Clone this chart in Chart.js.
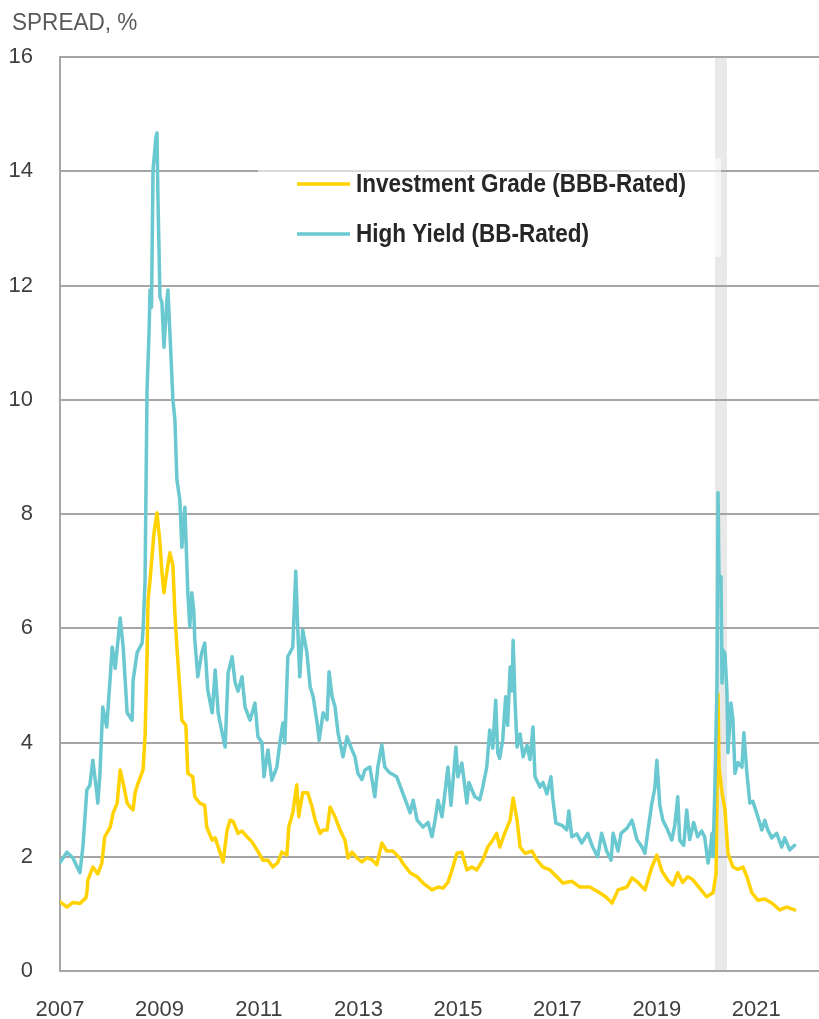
<!DOCTYPE html>
<html>
<head>
<meta charset="utf-8">
<script src="https://cdn.jsdelivr.net/npm/chart.js@4.4.1/dist/chart.umd.min.js"></script>
<style>
  html, body { margin: 0; padding: 0; background: #ffffff; }
  #wrap { position: relative; width: 819px; height: 1019px; }
</style>
</head>
<body>
<div id="wrap"><canvas id="c"></canvas></div>
<script>
// ---------- DATA ----------
const axisTitle = "SPREAD, %";
const seriesNames = ["Investment Grade (BBB-Rated)", "High Yield (BB-Rated)"];
const xTickYears = [2007, 2009, 2011, 2013, 2015, 2017, 2019, 2021];
const yTicks = [0, 2, 4, 6, 8, 10, 12, 14, 16];
const recessionStart = 2020.17;
const recessionEnd = 2020.41;

const hyYears = [2007.00,2007.14,2007.26,2007.40,2007.46,2007.54,2007.60,2007.66,2007.74,2007.76,2007.80,2007.86,2007.94,2008.01,2008.05,2008.11,2008.21,2008.27,2008.35,2008.45,2008.47,2008.55,2008.65,2008.67,2008.71,2008.75,2008.79,2008.81,2008.84,2008.87,2008.93,2008.95,2008.97,2009.01,2009.05,2009.09,2009.15,2009.17,2009.21,2009.27,2009.31,2009.35,2009.41,2009.45,2009.51,2009.57,2009.61,2009.65,2009.69,2009.71,2009.77,2009.85,2009.91,2009.97,2010.06,2010.12,2010.18,2010.26,2010.32,2010.38,2010.46,2010.52,2010.58,2010.66,2010.72,2010.82,2010.92,2010.98,2011.06,2011.10,2011.18,2011.26,2011.36,2011.42,2011.48,2011.52,2011.58,2011.68,2011.74,2011.78,2011.82,2011.88,2011.96,2012.03,2012.09,2012.17,2012.21,2012.29,2012.37,2012.41,2012.47,2012.53,2012.59,2012.69,2012.77,2012.87,2012.93,2012.99,2013.07,2013.13,2013.23,2013.33,2013.39,2013.47,2013.53,2013.63,2013.77,2013.89,2014.04,2014.10,2014.18,2014.30,2014.40,2014.48,2014.54,2014.60,2014.68,2014.74,2014.80,2014.86,2014.96,2015.00,2015.08,2015.18,2015.22,2015.34,2015.44,2015.50,2015.58,2015.64,2015.70,2015.76,2015.80,2015.84,2015.90,2015.96,2016.00,2016.05,2016.09,2016.11,2016.15,2016.19,2016.25,2016.31,2016.39,2016.45,2016.51,2016.55,2016.65,2016.71,2016.79,2016.87,2016.91,2016.97,2017.09,2017.19,2017.23,2017.29,2017.39,2017.49,2017.61,2017.71,2017.81,2017.89,2017.99,2018.08,2018.12,2018.22,2018.28,2018.40,2018.50,2018.60,2018.70,2018.76,2018.82,2018.90,2018.96,2019.00,2019.06,2019.12,2019.20,2019.30,2019.36,2019.42,2019.46,2019.54,2019.60,2019.66,2019.74,2019.82,2019.90,2019.96,2020.03,2020.07,2020.11,2020.13,2020.17,2020.21,2020.23,2020.25,2020.29,2020.31,2020.33,2020.37,2020.41,2020.43,2020.49,2020.53,2020.57,2020.63,2020.71,2020.75,2020.81,2020.87,2020.93,2021.03,2021.11,2021.17,2021.23,2021.31,2021.41,2021.51,2021.57,2021.67,2021.77];
const hyValues = [1.90,2.08,1.98,1.72,2.17,3.17,3.25,3.69,3.12,2.94,3.40,4.62,4.27,5.15,5.67,5.30,6.18,5.67,4.52,4.39,5.09,5.57,5.74,5.97,6.84,10.17,11.17,11.92,11.62,14.02,14.60,14.67,13.50,11.80,11.70,10.92,11.75,11.92,11.17,10.00,9.65,8.60,8.24,7.42,8.12,6.62,6.03,6.62,6.30,5.80,5.15,5.57,5.74,4.92,4.52,5.27,4.52,4.17,3.92,5.22,5.50,5.05,4.90,5.15,4.62,4.39,4.69,4.10,4.00,3.40,3.87,3.34,3.57,3.99,4.34,3.99,5.50,5.67,7.00,6.00,5.15,5.97,5.60,4.97,4.80,4.34,4.04,4.52,4.40,5.24,4.80,4.62,4.17,3.75,4.10,3.87,3.75,3.46,3.35,3.52,3.57,3.05,3.57,3.96,3.57,3.47,3.40,3.12,2.77,2.99,2.64,2.52,2.60,2.35,2.64,2.99,2.70,3.12,3.57,2.90,3.92,3.40,3.64,2.94,3.30,3.05,3.00,3.22,3.57,4.22,3.90,4.74,3.82,3.72,4.04,4.80,4.30,5.32,4.90,5.79,4.70,3.92,4.15,3.75,3.95,3.70,4.27,3.40,3.22,3.30,3.10,3.40,3.00,2.59,2.55,2.47,2.80,2.35,2.40,2.24,2.41,2.17,2.00,2.41,2.10,1.94,2.41,2.10,2.41,2.50,2.64,2.30,2.17,2.06,2.45,2.94,3.20,3.69,2.90,2.64,2.50,2.29,2.55,3.05,2.29,2.20,2.82,2.30,2.60,2.35,2.45,2.35,1.89,2.10,2.41,2.00,3.34,5.09,8.37,6.84,6.90,5.04,5.62,5.55,4.87,3.82,4.69,4.40,3.46,3.65,3.57,4.17,3.46,2.94,2.97,2.70,2.47,2.64,2.47,2.33,2.41,2.17,2.33,2.12,2.20];

const igYears = [2007.00,2007.14,2007.26,2007.40,2007.52,2007.54,2007.56,2007.66,2007.76,2007.84,2007.90,2008.01,2008.07,2008.15,2008.21,2008.27,2008.35,2008.41,2008.47,2008.51,2008.57,2008.67,2008.71,2008.75,2008.77,2008.81,2008.89,2008.95,2008.97,2009.01,2009.05,2009.09,2009.15,2009.21,2009.27,2009.31,2009.35,2009.41,2009.45,2009.53,2009.57,2009.67,2009.71,2009.81,2009.91,2009.95,2010.06,2010.12,2010.20,2010.28,2010.36,2010.42,2010.48,2010.58,2010.66,2010.76,2010.86,2010.96,2011.08,2011.18,2011.28,2011.38,2011.46,2011.56,2011.60,2011.68,2011.76,2011.80,2011.88,2011.98,2012.07,2012.13,2012.23,2012.29,2012.37,2012.43,2012.53,2012.63,2012.73,2012.79,2012.87,2012.97,2013.07,2013.17,2013.27,2013.37,2013.47,2013.57,2013.69,2013.83,2013.89,2014.04,2014.18,2014.30,2014.48,2014.60,2014.70,2014.80,2014.90,2014.98,2015.08,2015.18,2015.28,2015.38,2015.50,2015.60,2015.70,2015.78,2015.84,2015.94,2016.05,2016.11,2016.19,2016.25,2016.35,2016.49,2016.59,2016.71,2016.85,2016.99,2017.11,2017.29,2017.45,2017.65,2017.85,2017.97,2018.10,2018.22,2018.40,2018.50,2018.62,2018.76,2018.90,2019.00,2019.10,2019.22,2019.32,2019.42,2019.52,2019.62,2019.72,2019.86,2020.00,2020.13,2020.19,2020.21,2020.23,2020.25,2020.31,2020.37,2020.43,2020.53,2020.63,2020.73,2020.81,2020.91,2021.03,2021.17,2021.31,2021.47,2021.61,2021.67,2021.77];
const igValues = [1.21,1.12,1.20,1.18,1.28,1.37,1.59,1.82,1.70,1.89,2.35,2.52,2.77,2.94,3.52,3.29,2.94,2.87,2.82,3.12,3.29,3.52,4.10,5.50,6.49,6.84,7.67,8.02,7.85,7.49,6.97,6.62,7.00,7.32,7.10,6.27,5.67,4.92,4.39,4.30,3.46,3.40,3.05,2.94,2.90,2.52,2.29,2.33,2.12,1.91,2.47,2.64,2.62,2.41,2.45,2.35,2.26,2.12,1.94,1.94,1.82,1.90,2.08,2.03,2.52,2.77,3.26,2.70,3.12,3.12,2.87,2.64,2.41,2.47,2.47,2.87,2.70,2.47,2.29,1.98,2.08,1.98,1.91,1.98,1.95,1.86,2.24,2.10,2.10,1.98,1.89,1.72,1.65,1.54,1.42,1.47,1.45,1.55,1.82,2.06,2.08,1.77,1.82,1.77,1.94,2.17,2.29,2.41,2.17,2.41,2.64,3.03,2.64,2.17,2.06,2.10,1.94,1.82,1.77,1.65,1.54,1.57,1.47,1.47,1.37,1.30,1.19,1.42,1.47,1.63,1.55,1.42,1.82,2.03,1.75,1.59,1.50,1.72,1.55,1.65,1.60,1.45,1.30,1.37,1.70,3.00,4.85,3.57,3.12,2.82,2.06,1.82,1.78,1.82,1.65,1.37,1.24,1.26,1.19,1.07,1.12,1.10,1.07];

// ---------- STYLE ----------
const igColor = "#FFD200";
const hyColor = "#69C8D0";
const gridColor = "#A6A6A6";
const tickFont = "'Liberation Sans', Arial, sans-serif";

function pairs(xs, ys) { return xs.map((x, i) => ({ x: x, y: ys[i] })); }

function narrowText(ctx, text, x, y, sx) {
  ctx.save();
  ctx.translate(x, y);
  ctx.scale(sx, 1);
  ctx.fillText(text, 0, 0);
  ctx.restore();
}

const overlayPlugin = {
  id: 'overlay',
  beforeDraw(chart) {
    const { ctx, chartArea, scales } = chart;
    const x0 = scales.x.getPixelForValue(recessionStart);
    const x1 = scales.x.getPixelForValue(recessionEnd);
    ctx.save();
    ctx.fillStyle = "#E9E9E9";
    ctx.fillRect(x0, chartArea.top, x1 - x0, chartArea.bottom - chartArea.top);
    ctx.restore();
  },
  afterDraw(chart) {
    const { ctx } = chart;
    ctx.save();
    // axis title
    ctx.fillStyle = "#595959";
    ctx.font = "24px " + tickFont;
    ctx.textBaseline = "middle";
    ctx.textAlign = "left";
    narrowText(ctx, axisTitle, 12, 23, 0.94);
    // legend box
    ctx.fillStyle = "rgba(255,255,255,0.6)";
    ctx.fillRect(258, 158, 463, 99);
    const items = [[seriesNames[0], igColor, 184], [seriesNames[1], hyColor, 234]];
    ctx.font = "bold 25px " + tickFont;
    items.forEach(([label, col, y]) => {
      ctx.strokeStyle = col;
      ctx.lineWidth = 3.5;
      ctx.beginPath();
      ctx.moveTo(297, y);
      ctx.lineTo(350, y);
      ctx.stroke();
      ctx.fillStyle = "#262626";
      narrowText(ctx, label, 356, y + 1, 0.9);
    });
    ctx.restore();
  }
};

new Chart(document.getElementById('c'), {
  type: 'line',
  data: {
    datasets: [
      { label: seriesNames[1], data: pairs(hyYears, hyValues), borderColor: hyColor, borderWidth: 3.5, pointRadius: 0, tension: 0, borderJoinStyle: 'round', borderCapStyle: 'round', fill: false },
      { label: seriesNames[0], data: pairs(igYears, igValues), borderColor: igColor, borderWidth: 3.5, pointRadius: 0, tension: 0, borderJoinStyle: 'round', borderCapStyle: 'round', fill: false }
    ]
  },
  options: {
    responsive: true,
    maintainAspectRatio: false,
    animation: false,
    layout: { padding: { top: 57, right: 0, left: 0, bottom: 0 } },
    plugins: { legend: { display: false }, tooltip: { enabled: false } },
    scales: {
      x: {
        type: 'linear',
        min: 2007,
        max: 2022.26,
        afterBuildTicks(scale) { scale.ticks = xTickYears.map(v => ({ value: v })); },
        afterFit(scale) { scale.height = 48; },
        grid: { display: false },
        border: { display: true, color: gridColor, width: 2 },
        ticks: {
          autoSkip: false, maxRotation: 0, padding: 18,
          color: "#404040",
          font: { family: tickFont, size: 22 },
          callback: v => String(v)
        }
      },
      y: {
        min: 0, max: 16,
        afterBuildTicks(scale) { scale.ticks = yTicks.map(v => ({ value: v })); },
        afterFit(scale) { scale.width = 60; },
        grid: { color: gridColor, lineWidth: 2, drawTicks: false },
        border: { display: true, color: gridColor, width: 2 },
        ticks: {
          padding: 27,
          color: "#404040",
          font: { family: tickFont, size: 22 }
        }
      }
    }
  },
  plugins: [overlayPlugin]
});
</script>
</body>
</html>
